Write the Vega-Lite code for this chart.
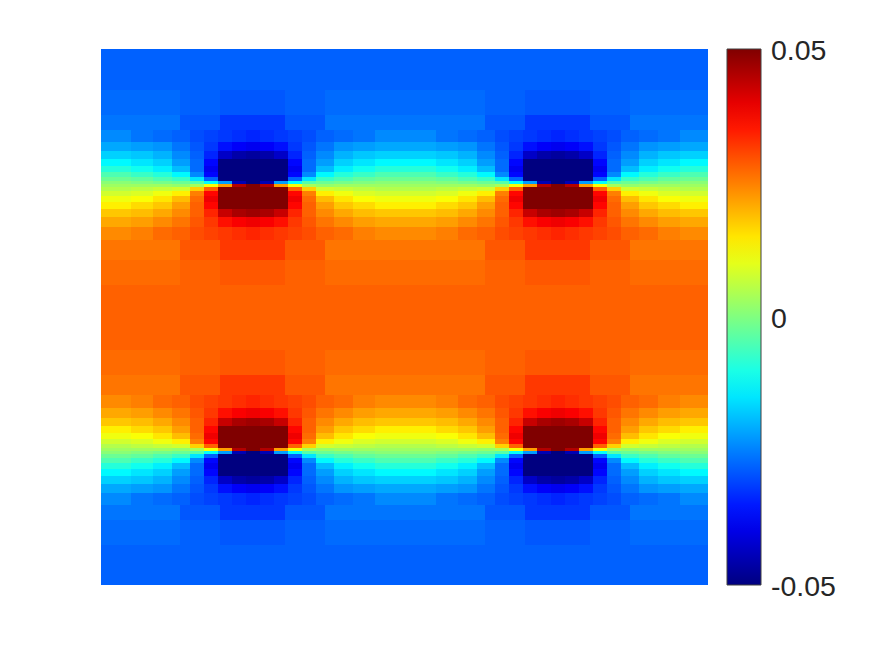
{"$schema":"https://vega.github.io/schema/vega-lite/v6.json","width":607,"height":536,"autosize":{"type":"none"},"padding":{"left":101,"top":49,"right":167,"bottom":71},"background":"white","config":{"view":{"stroke":null}},"datasets":{"cols":[{"c":0,"a":101,"b":131},{"c":1,"a":131,"b":153},{"c":2,"a":153,"b":172},{"c":3,"a":172,"b":190},{"c":4,"a":190,"b":204},{"c":5,"a":204,"b":218},{"c":6,"a":218,"b":232},{"c":7,"a":232,"b":246},{"c":8,"a":246,"b":260},{"c":9,"a":260,"b":274},{"c":10,"a":274,"b":288},{"c":11,"a":288,"b":302},{"c":12,"a":302,"b":316},{"c":13,"a":316,"b":334},{"c":14,"a":334,"b":353},{"c":15,"a":353,"b":375},{"c":16,"a":375,"b":436},{"c":17,"a":436,"b":458},{"c":18,"a":458,"b":477},{"c":19,"a":477,"b":495},{"c":20,"a":495,"b":509},{"c":21,"a":509,"b":523},{"c":22,"a":523,"b":537},{"c":23,"a":537,"b":551},{"c":24,"a":551,"b":565},{"c":25,"a":565,"b":579},{"c":26,"a":579,"b":593},{"c":27,"a":593,"b":607},{"c":28,"a":607,"b":621},{"c":29,"a":621,"b":639},{"c":30,"a":639,"b":658},{"c":31,"a":658,"b":680},{"c":32,"a":680,"b":708},{"c":33,"a":218,"b":288},{"c":34,"a":523,"b":593},{"c":35,"a":101,"b":708},{"c":36,"a":101,"b":180},{"c":37,"a":180,"b":220},{"c":38,"a":220,"b":285},{"c":39,"a":285,"b":325},{"c":40,"a":325,"b":485},{"c":41,"a":485,"b":525},{"c":42,"a":525,"b":590},{"c":43,"a":590,"b":630},{"c":44,"a":630,"b":708}],"rows":[{"r":0,"s":49,"t":90},{"r":1,"s":90,"t":115},{"r":2,"s":115,"t":130},{"r":3,"s":130,"t":142},{"r":4,"s":142,"t":151},{"r":5,"s":151,"t":159},{"r":6,"s":159,"t":166},{"r":7,"s":166,"t":172},{"r":8,"s":172,"t":177},{"r":9,"s":177,"t":181},{"r":10,"s":181,"t":184},{"r":11,"s":184,"t":187},{"r":12,"s":187,"t":191},{"r":13,"s":191,"t":196},{"r":14,"s":196,"t":202},{"r":15,"s":202,"t":209},{"r":16,"s":209,"t":217},{"r":17,"s":217,"t":227},{"r":18,"s":227,"t":240},{"r":19,"s":240,"t":260},{"r":20,"s":260,"t":285},{"r":21,"s":285,"t":350},{"r":22,"s":350,"t":375},{"r":23,"s":375,"t":395},{"r":24,"s":395,"t":408},{"r":25,"s":408,"t":418},{"r":26,"s":418,"t":426},{"r":27,"s":426,"t":433},{"r":28,"s":433,"t":439},{"r":29,"s":439,"t":444},{"r":30,"s":444,"t":448},{"r":31,"s":448,"t":451},{"r":32,"s":451,"t":454},{"r":33,"s":454,"t":458},{"r":34,"s":458,"t":463},{"r":35,"s":463,"t":469},{"r":36,"s":469,"t":476},{"r":37,"s":476,"t":484},{"r":38,"s":484,"t":493},{"r":39,"s":493,"t":505},{"r":40,"s":505,"t":520},{"r":41,"s":520,"t":545},{"r":42,"s":545,"t":585}]},"data":{"values":[
{"c":35,"r":0,"v":-0.028},{"c":35,"r":21,"v":0.028},{"c":35,"r":42,"v":-0.028},
{"c":36,"r":1,"v":-0.027},{"c":37,"r":1,"v":-0.028},{"c":38,"r":1,"v":-0.029},{"c":39,"r":1,"v":-0.028},{"c":40,"r":1,"v":-0.027},{"c":41,"r":1,"v":-0.028},{"c":42,"r":1,"v":-0.029},{"c":43,"r":1,"v":-0.028},{"c":44,"r":1,"v":-0.027},
{"c":36,"r":2,"v":-0.026},{"c":37,"r":2,"v":-0.029},{"c":38,"r":2,"v":-0.032},{"c":39,"r":2,"v":-0.029},{"c":40,"r":2,"v":-0.026},{"c":41,"r":2,"v":-0.029},{"c":42,"r":2,"v":-0.032},{"c":43,"r":2,"v":-0.029},{"c":44,"r":2,"v":-0.026},
{"c":36,"r":19,"v":0.026},{"c":37,"r":19,"v":0.029},{"c":38,"r":19,"v":0.032},{"c":39,"r":19,"v":0.029},{"c":40,"r":19,"v":0.026},{"c":41,"r":19,"v":0.029},{"c":42,"r":19,"v":0.032},{"c":43,"r":19,"v":0.029},{"c":44,"r":19,"v":0.026},
{"c":36,"r":20,"v":0.027},{"c":37,"r":20,"v":0.028},{"c":38,"r":20,"v":0.029},{"c":39,"r":20,"v":0.028},{"c":40,"r":20,"v":0.027},{"c":41,"r":20,"v":0.028},{"c":42,"r":20,"v":0.029},{"c":43,"r":20,"v":0.028},{"c":44,"r":20,"v":0.027},
{"c":36,"r":22,"v":0.027},{"c":37,"r":22,"v":0.028},{"c":38,"r":22,"v":0.029},{"c":39,"r":22,"v":0.028},{"c":40,"r":22,"v":0.027},{"c":41,"r":22,"v":0.028},{"c":42,"r":22,"v":0.029},{"c":43,"r":22,"v":0.028},{"c":44,"r":22,"v":0.027},
{"c":36,"r":23,"v":0.026},{"c":37,"r":23,"v":0.029},{"c":38,"r":23,"v":0.032},{"c":39,"r":23,"v":0.029},{"c":40,"r":23,"v":0.026},{"c":41,"r":23,"v":0.029},{"c":42,"r":23,"v":0.032},{"c":43,"r":23,"v":0.029},{"c":44,"r":23,"v":0.026},
{"c":36,"r":40,"v":-0.026},{"c":37,"r":40,"v":-0.029},{"c":38,"r":40,"v":-0.032},{"c":39,"r":40,"v":-0.029},{"c":40,"r":40,"v":-0.026},{"c":41,"r":40,"v":-0.029},{"c":42,"r":40,"v":-0.032},{"c":43,"r":40,"v":-0.029},{"c":44,"r":40,"v":-0.026},
{"c":36,"r":41,"v":-0.027},{"c":37,"r":41,"v":-0.028},{"c":38,"r":41,"v":-0.029},{"c":39,"r":41,"v":-0.028},{"c":40,"r":41,"v":-0.027},{"c":41,"r":41,"v":-0.028},{"c":42,"r":41,"v":-0.029},{"c":43,"r":41,"v":-0.028},{"c":44,"r":41,"v":-0.027},
{"c":0,"r":3,"v":-0.024},{"c":1,"r":3,"v":-0.026},{"c":2,"r":3,"v":-0.027},{"c":3,"r":3,"v":-0.028},{"c":4,"r":3,"v":-0.03},{"c":5,"r":3,"v":-0.031},{"c":6,"r":3,"v":-0.032},{"c":7,"r":3,"v":-0.033},{"c":8,"r":3,"v":-0.034},{"c":9,"r":3,"v":-0.033},{"c":10,"r":3,"v":-0.032},{"c":11,"r":3,"v":-0.031},{"c":12,"r":3,"v":-0.03},{"c":13,"r":3,"v":-0.028},{"c":14,"r":3,"v":-0.027},{"c":15,"r":3,"v":-0.026},{"c":16,"r":3,"v":-0.024},{"c":17,"r":3,"v":-0.026},{"c":18,"r":3,"v":-0.027},{"c":19,"r":3,"v":-0.028},{"c":20,"r":3,"v":-0.03},{"c":21,"r":3,"v":-0.031},{"c":22,"r":3,"v":-0.032},{"c":23,"r":3,"v":-0.033},{"c":24,"r":3,"v":-0.034},{"c":25,"r":3,"v":-0.033},{"c":26,"r":3,"v":-0.032},{"c":27,"r":3,"v":-0.031},{"c":28,"r":3,"v":-0.03},{"c":29,"r":3,"v":-0.028},{"c":30,"r":3,"v":-0.027},{"c":31,"r":3,"v":-0.026},{"c":32,"r":3,"v":-0.024},
{"c":0,"r":39,"v":-0.024},{"c":1,"r":39,"v":-0.026},{"c":2,"r":39,"v":-0.027},{"c":3,"r":39,"v":-0.028},{"c":4,"r":39,"v":-0.03},{"c":5,"r":39,"v":-0.031},{"c":6,"r":39,"v":-0.032},{"c":7,"r":39,"v":-0.033},{"c":8,"r":39,"v":-0.034},{"c":9,"r":39,"v":-0.033},{"c":10,"r":39,"v":-0.032},{"c":11,"r":39,"v":-0.031},{"c":12,"r":39,"v":-0.03},{"c":13,"r":39,"v":-0.028},{"c":14,"r":39,"v":-0.027},{"c":15,"r":39,"v":-0.026},{"c":16,"r":39,"v":-0.024},{"c":17,"r":39,"v":-0.026},{"c":18,"r":39,"v":-0.027},{"c":19,"r":39,"v":-0.028},{"c":20,"r":39,"v":-0.03},{"c":21,"r":39,"v":-0.031},{"c":22,"r":39,"v":-0.032},{"c":23,"r":39,"v":-0.033},{"c":24,"r":39,"v":-0.034},{"c":25,"r":39,"v":-0.033},{"c":26,"r":39,"v":-0.032},{"c":27,"r":39,"v":-0.031},{"c":28,"r":39,"v":-0.03},{"c":29,"r":39,"v":-0.028},{"c":30,"r":39,"v":-0.027},{"c":31,"r":39,"v":-0.026},{"c":32,"r":39,"v":-0.024},
{"c":0,"r":4,"v":-0.021},{"c":1,"r":4,"v":-0.022},{"c":2,"r":4,"v":-0.023},{"c":3,"r":4,"v":-0.026},{"c":4,"r":4,"v":-0.029},{"c":5,"r":4,"v":-0.032},{"c":6,"r":4,"v":-0.036},{"c":7,"r":4,"v":-0.038},{"c":8,"r":4,"v":-0.039},{"c":9,"r":4,"v":-0.038},{"c":10,"r":4,"v":-0.036},{"c":11,"r":4,"v":-0.032},{"c":12,"r":4,"v":-0.029},{"c":13,"r":4,"v":-0.026},{"c":14,"r":4,"v":-0.023},{"c":15,"r":4,"v":-0.022},{"c":16,"r":4,"v":-0.021},{"c":17,"r":4,"v":-0.022},{"c":18,"r":4,"v":-0.023},{"c":19,"r":4,"v":-0.026},{"c":20,"r":4,"v":-0.029},{"c":21,"r":4,"v":-0.032},{"c":22,"r":4,"v":-0.036},{"c":23,"r":4,"v":-0.038},{"c":24,"r":4,"v":-0.039},{"c":25,"r":4,"v":-0.038},{"c":26,"r":4,"v":-0.036},{"c":27,"r":4,"v":-0.032},{"c":28,"r":4,"v":-0.029},{"c":29,"r":4,"v":-0.026},{"c":30,"r":4,"v":-0.023},{"c":31,"r":4,"v":-0.022},{"c":32,"r":4,"v":-0.021},
{"c":0,"r":38,"v":-0.021},{"c":1,"r":38,"v":-0.022},{"c":2,"r":38,"v":-0.023},{"c":3,"r":38,"v":-0.026},{"c":4,"r":38,"v":-0.029},{"c":5,"r":38,"v":-0.032},{"c":6,"r":38,"v":-0.036},{"c":7,"r":38,"v":-0.038},{"c":8,"r":38,"v":-0.039},{"c":9,"r":38,"v":-0.038},{"c":10,"r":38,"v":-0.036},{"c":11,"r":38,"v":-0.032},{"c":12,"r":38,"v":-0.029},{"c":13,"r":38,"v":-0.026},{"c":14,"r":38,"v":-0.023},{"c":15,"r":38,"v":-0.022},{"c":16,"r":38,"v":-0.021},{"c":17,"r":38,"v":-0.022},{"c":18,"r":38,"v":-0.023},{"c":19,"r":38,"v":-0.026},{"c":20,"r":38,"v":-0.029},{"c":21,"r":38,"v":-0.032},{"c":22,"r":38,"v":-0.036},{"c":23,"r":38,"v":-0.038},{"c":24,"r":38,"v":-0.039},{"c":25,"r":38,"v":-0.038},{"c":26,"r":38,"v":-0.036},{"c":27,"r":38,"v":-0.032},{"c":28,"r":38,"v":-0.029},{"c":29,"r":38,"v":-0.026},{"c":30,"r":38,"v":-0.023},{"c":31,"r":38,"v":-0.022},{"c":32,"r":38,"v":-0.021},
{"c":0,"r":5,"v":-0.017},{"c":1,"r":5,"v":-0.018},{"c":2,"r":5,"v":-0.02},{"c":3,"r":5,"v":-0.024},{"c":4,"r":5,"v":-0.028},{"c":5,"r":5,"v":-0.034},{"c":6,"r":5,"v":-0.043},{"c":7,"r":5,"v":-0.046},{"c":8,"r":5,"v":-0.047},{"c":9,"r":5,"v":-0.046},{"c":10,"r":5,"v":-0.043},{"c":11,"r":5,"v":-0.034},{"c":12,"r":5,"v":-0.028},{"c":13,"r":5,"v":-0.024},{"c":14,"r":5,"v":-0.02},{"c":15,"r":5,"v":-0.018},{"c":16,"r":5,"v":-0.017},{"c":17,"r":5,"v":-0.018},{"c":18,"r":5,"v":-0.02},{"c":19,"r":5,"v":-0.024},{"c":20,"r":5,"v":-0.028},{"c":21,"r":5,"v":-0.034},{"c":22,"r":5,"v":-0.043},{"c":23,"r":5,"v":-0.046},{"c":24,"r":5,"v":-0.047},{"c":25,"r":5,"v":-0.046},{"c":26,"r":5,"v":-0.043},{"c":27,"r":5,"v":-0.034},{"c":28,"r":5,"v":-0.028},{"c":29,"r":5,"v":-0.024},{"c":30,"r":5,"v":-0.02},{"c":31,"r":5,"v":-0.018},{"c":32,"r":5,"v":-0.017},
{"c":0,"r":37,"v":-0.017},{"c":1,"r":37,"v":-0.018},{"c":2,"r":37,"v":-0.02},{"c":3,"r":37,"v":-0.024},{"c":4,"r":37,"v":-0.028},{"c":5,"r":37,"v":-0.034},{"c":6,"r":37,"v":-0.043},{"c":7,"r":37,"v":-0.046},{"c":8,"r":37,"v":-0.047},{"c":9,"r":37,"v":-0.046},{"c":10,"r":37,"v":-0.043},{"c":11,"r":37,"v":-0.034},{"c":12,"r":37,"v":-0.028},{"c":13,"r":37,"v":-0.024},{"c":14,"r":37,"v":-0.02},{"c":15,"r":37,"v":-0.018},{"c":16,"r":37,"v":-0.017},{"c":17,"r":37,"v":-0.018},{"c":18,"r":37,"v":-0.02},{"c":19,"r":37,"v":-0.024},{"c":20,"r":37,"v":-0.028},{"c":21,"r":37,"v":-0.034},{"c":22,"r":37,"v":-0.043},{"c":23,"r":37,"v":-0.046},{"c":24,"r":37,"v":-0.047},{"c":25,"r":37,"v":-0.046},{"c":26,"r":37,"v":-0.043},{"c":27,"r":37,"v":-0.034},{"c":28,"r":37,"v":-0.028},{"c":29,"r":37,"v":-0.024},{"c":30,"r":37,"v":-0.02},{"c":31,"r":37,"v":-0.018},{"c":32,"r":37,"v":-0.017},
{"c":0,"r":6,"v":-0.013},{"c":1,"r":6,"v":-0.015},{"c":2,"r":6,"v":-0.017},{"c":3,"r":6,"v":-0.022},{"c":4,"r":6,"v":-0.027},{"c":5,"r":6,"v":-0.037},{"c":33,"r":6,"v":-0.05},{"c":11,"r":6,"v":-0.037},{"c":12,"r":6,"v":-0.027},{"c":13,"r":6,"v":-0.022},{"c":14,"r":6,"v":-0.017},{"c":15,"r":6,"v":-0.015},{"c":16,"r":6,"v":-0.013},{"c":17,"r":6,"v":-0.015},{"c":18,"r":6,"v":-0.017},{"c":19,"r":6,"v":-0.022},{"c":20,"r":6,"v":-0.027},{"c":21,"r":6,"v":-0.037},{"c":34,"r":6,"v":-0.05},{"c":27,"r":6,"v":-0.037},{"c":28,"r":6,"v":-0.027},{"c":29,"r":6,"v":-0.022},{"c":30,"r":6,"v":-0.017},{"c":31,"r":6,"v":-0.015},{"c":32,"r":6,"v":-0.013},
{"c":0,"r":36,"v":-0.013},{"c":1,"r":36,"v":-0.015},{"c":2,"r":36,"v":-0.017},{"c":3,"r":36,"v":-0.022},{"c":4,"r":36,"v":-0.027},{"c":5,"r":36,"v":-0.037},{"c":33,"r":36,"v":-0.05},{"c":11,"r":36,"v":-0.037},{"c":12,"r":36,"v":-0.027},{"c":13,"r":36,"v":-0.022},{"c":14,"r":36,"v":-0.017},{"c":15,"r":36,"v":-0.015},{"c":16,"r":36,"v":-0.013},{"c":17,"r":36,"v":-0.015},{"c":18,"r":36,"v":-0.017},{"c":19,"r":36,"v":-0.022},{"c":20,"r":36,"v":-0.027},{"c":21,"r":36,"v":-0.037},{"c":34,"r":36,"v":-0.05},{"c":27,"r":36,"v":-0.037},{"c":28,"r":36,"v":-0.027},{"c":29,"r":36,"v":-0.022},{"c":30,"r":36,"v":-0.017},{"c":31,"r":36,"v":-0.015},{"c":32,"r":36,"v":-0.013},
{"c":0,"r":7,"v":-0.009},{"c":1,"r":7,"v":-0.011},{"c":2,"r":7,"v":-0.014},{"c":3,"r":7,"v":-0.019},{"c":4,"r":7,"v":-0.027},{"c":5,"r":7,"v":-0.039},{"c":33,"r":7,"v":-0.05},{"c":11,"r":7,"v":-0.039},{"c":12,"r":7,"v":-0.027},{"c":13,"r":7,"v":-0.019},{"c":14,"r":7,"v":-0.014},{"c":15,"r":7,"v":-0.011},{"c":16,"r":7,"v":-0.009},{"c":17,"r":7,"v":-0.011},{"c":18,"r":7,"v":-0.014},{"c":19,"r":7,"v":-0.019},{"c":20,"r":7,"v":-0.027},{"c":21,"r":7,"v":-0.039},{"c":34,"r":7,"v":-0.05},{"c":27,"r":7,"v":-0.039},{"c":28,"r":7,"v":-0.027},{"c":29,"r":7,"v":-0.019},{"c":30,"r":7,"v":-0.014},{"c":31,"r":7,"v":-0.011},{"c":32,"r":7,"v":-0.009},
{"c":0,"r":35,"v":-0.009},{"c":1,"r":35,"v":-0.011},{"c":2,"r":35,"v":-0.014},{"c":3,"r":35,"v":-0.019},{"c":4,"r":35,"v":-0.027},{"c":5,"r":35,"v":-0.039},{"c":33,"r":35,"v":-0.05},{"c":11,"r":35,"v":-0.039},{"c":12,"r":35,"v":-0.027},{"c":13,"r":35,"v":-0.019},{"c":14,"r":35,"v":-0.014},{"c":15,"r":35,"v":-0.011},{"c":16,"r":35,"v":-0.009},{"c":17,"r":35,"v":-0.011},{"c":18,"r":35,"v":-0.014},{"c":19,"r":35,"v":-0.019},{"c":20,"r":35,"v":-0.027},{"c":21,"r":35,"v":-0.039},{"c":34,"r":35,"v":-0.05},{"c":27,"r":35,"v":-0.039},{"c":28,"r":35,"v":-0.027},{"c":29,"r":35,"v":-0.019},{"c":30,"r":35,"v":-0.014},{"c":31,"r":35,"v":-0.011},{"c":32,"r":35,"v":-0.009},
{"c":0,"r":8,"v":-0.005},{"c":1,"r":8,"v":-0.007},{"c":2,"r":8,"v":-0.009},{"c":3,"r":8,"v":-0.013},{"c":4,"r":8,"v":-0.024},{"c":5,"r":8,"v":-0.037},{"c":33,"r":8,"v":-0.05},{"c":11,"r":8,"v":-0.037},{"c":12,"r":8,"v":-0.024},{"c":13,"r":8,"v":-0.013},{"c":14,"r":8,"v":-0.009},{"c":15,"r":8,"v":-0.007},{"c":16,"r":8,"v":-0.005},{"c":17,"r":8,"v":-0.007},{"c":18,"r":8,"v":-0.009},{"c":19,"r":8,"v":-0.013},{"c":20,"r":8,"v":-0.024},{"c":21,"r":8,"v":-0.037},{"c":34,"r":8,"v":-0.05},{"c":27,"r":8,"v":-0.037},{"c":28,"r":8,"v":-0.024},{"c":29,"r":8,"v":-0.013},{"c":30,"r":8,"v":-0.009},{"c":31,"r":8,"v":-0.007},{"c":32,"r":8,"v":-0.005},
{"c":0,"r":34,"v":-0.005},{"c":1,"r":34,"v":-0.007},{"c":2,"r":34,"v":-0.009},{"c":3,"r":34,"v":-0.013},{"c":4,"r":34,"v":-0.024},{"c":5,"r":34,"v":-0.037},{"c":33,"r":34,"v":-0.05},{"c":11,"r":34,"v":-0.037},{"c":12,"r":34,"v":-0.024},{"c":13,"r":34,"v":-0.013},{"c":14,"r":34,"v":-0.009},{"c":15,"r":34,"v":-0.007},{"c":16,"r":34,"v":-0.005},{"c":17,"r":34,"v":-0.007},{"c":18,"r":34,"v":-0.009},{"c":19,"r":34,"v":-0.013},{"c":20,"r":34,"v":-0.024},{"c":21,"r":34,"v":-0.037},{"c":34,"r":34,"v":-0.05},{"c":27,"r":34,"v":-0.037},{"c":28,"r":34,"v":-0.024},{"c":29,"r":34,"v":-0.013},{"c":30,"r":34,"v":-0.009},{"c":31,"r":34,"v":-0.007},{"c":32,"r":34,"v":-0.005},
{"c":0,"r":9,"v":-0.002},{"c":1,"r":9,"v":-0.003},{"c":2,"r":9,"v":-0.005},{"c":3,"r":9,"v":-0.007},{"c":4,"r":9,"v":-0.015},{"c":5,"r":9,"v":-0.028},{"c":33,"r":9,"v":-0.05},{"c":11,"r":9,"v":-0.028},{"c":12,"r":9,"v":-0.015},{"c":13,"r":9,"v":-0.007},{"c":14,"r":9,"v":-0.005},{"c":15,"r":9,"v":-0.003},{"c":16,"r":9,"v":-0.002},{"c":17,"r":9,"v":-0.003},{"c":18,"r":9,"v":-0.005},{"c":19,"r":9,"v":-0.007},{"c":20,"r":9,"v":-0.015},{"c":21,"r":9,"v":-0.028},{"c":34,"r":9,"v":-0.05},{"c":27,"r":9,"v":-0.028},{"c":28,"r":9,"v":-0.015},{"c":29,"r":9,"v":-0.007},{"c":30,"r":9,"v":-0.005},{"c":31,"r":9,"v":-0.003},{"c":32,"r":9,"v":-0.002},
{"c":0,"r":33,"v":-0.002},{"c":1,"r":33,"v":-0.003},{"c":2,"r":33,"v":-0.005},{"c":3,"r":33,"v":-0.007},{"c":4,"r":33,"v":-0.015},{"c":5,"r":33,"v":-0.028},{"c":33,"r":33,"v":-0.05},{"c":11,"r":33,"v":-0.028},{"c":12,"r":33,"v":-0.015},{"c":13,"r":33,"v":-0.007},{"c":14,"r":33,"v":-0.005},{"c":15,"r":33,"v":-0.003},{"c":16,"r":33,"v":-0.002},{"c":17,"r":33,"v":-0.003},{"c":18,"r":33,"v":-0.005},{"c":19,"r":33,"v":-0.007},{"c":20,"r":33,"v":-0.015},{"c":21,"r":33,"v":-0.028},{"c":34,"r":33,"v":-0.05},{"c":27,"r":33,"v":-0.028},{"c":28,"r":33,"v":-0.015},{"c":29,"r":33,"v":-0.007},{"c":30,"r":33,"v":-0.005},{"c":31,"r":33,"v":-0.003},{"c":32,"r":33,"v":-0.002},
{"c":0,"r":10,"v":0.001},{"c":1,"r":10,"v":0},{"c":2,"r":10,"v":-0.001},{"c":3,"r":10,"v":-0.002},{"c":4,"r":10,"v":-0.004},{"c":5,"r":10,"v":-0.012},{"c":6,"r":10,"v":-0.022},{"c":7,"r":10,"v":-0.045},{"c":8,"r":10,"v":-0.05},{"c":9,"r":10,"v":-0.045},{"c":10,"r":10,"v":-0.022},{"c":11,"r":10,"v":-0.012},{"c":12,"r":10,"v":-0.004},{"c":13,"r":10,"v":-0.002},{"c":14,"r":10,"v":-0.001},{"c":15,"r":10,"v":0},{"c":16,"r":10,"v":0.001},{"c":17,"r":10,"v":0},{"c":18,"r":10,"v":-0.001},{"c":19,"r":10,"v":-0.002},{"c":20,"r":10,"v":-0.004},{"c":21,"r":10,"v":-0.012},{"c":22,"r":10,"v":-0.022},{"c":23,"r":10,"v":-0.045},{"c":24,"r":10,"v":-0.05},{"c":25,"r":10,"v":-0.045},{"c":26,"r":10,"v":-0.022},{"c":27,"r":10,"v":-0.012},{"c":28,"r":10,"v":-0.004},{"c":29,"r":10,"v":-0.002},{"c":30,"r":10,"v":-0.001},{"c":31,"r":10,"v":0},{"c":32,"r":10,"v":0.001},
{"c":0,"r":32,"v":0.001},{"c":1,"r":32,"v":0},{"c":2,"r":32,"v":-0.001},{"c":3,"r":32,"v":-0.002},{"c":4,"r":32,"v":-0.004},{"c":5,"r":32,"v":-0.012},{"c":6,"r":32,"v":-0.022},{"c":7,"r":32,"v":-0.045},{"c":8,"r":32,"v":-0.05},{"c":9,"r":32,"v":-0.045},{"c":10,"r":32,"v":-0.022},{"c":11,"r":32,"v":-0.012},{"c":12,"r":32,"v":-0.004},{"c":13,"r":32,"v":-0.002},{"c":14,"r":32,"v":-0.001},{"c":15,"r":32,"v":0},{"c":16,"r":32,"v":0.001},{"c":17,"r":32,"v":0},{"c":18,"r":32,"v":-0.001},{"c":19,"r":32,"v":-0.002},{"c":20,"r":32,"v":-0.004},{"c":21,"r":32,"v":-0.012},{"c":22,"r":32,"v":-0.022},{"c":23,"r":32,"v":-0.045},{"c":24,"r":32,"v":-0.05},{"c":25,"r":32,"v":-0.045},{"c":26,"r":32,"v":-0.022},{"c":27,"r":32,"v":-0.012},{"c":28,"r":32,"v":-0.004},{"c":29,"r":32,"v":-0.002},{"c":30,"r":32,"v":-0.001},{"c":31,"r":32,"v":0},{"c":32,"r":32,"v":0.001},
{"c":0,"r":11,"v":0.003},{"c":1,"r":11,"v":0.003},{"c":2,"r":11,"v":0.003},{"c":3,"r":11,"v":0.002},{"c":4,"r":11,"v":0.004},{"c":5,"r":11,"v":0.012},{"c":6,"r":11,"v":0.022},{"c":7,"r":11,"v":0.045},{"c":8,"r":11,"v":0.05},{"c":9,"r":11,"v":0.045},{"c":10,"r":11,"v":0.022},{"c":11,"r":11,"v":0.012},{"c":12,"r":11,"v":0.004},{"c":13,"r":11,"v":0.002},{"c":14,"r":11,"v":0.003},{"c":15,"r":11,"v":0.003},{"c":16,"r":11,"v":0.003},{"c":17,"r":11,"v":0.003},{"c":18,"r":11,"v":0.003},{"c":19,"r":11,"v":0.002},{"c":20,"r":11,"v":0.004},{"c":21,"r":11,"v":0.012},{"c":22,"r":11,"v":0.022},{"c":23,"r":11,"v":0.045},{"c":24,"r":11,"v":0.05},{"c":25,"r":11,"v":0.045},{"c":26,"r":11,"v":0.022},{"c":27,"r":11,"v":0.012},{"c":28,"r":11,"v":0.004},{"c":29,"r":11,"v":0.002},{"c":30,"r":11,"v":0.003},{"c":31,"r":11,"v":0.003},{"c":32,"r":11,"v":0.003},
{"c":0,"r":31,"v":0.003},{"c":1,"r":31,"v":0.003},{"c":2,"r":31,"v":0.003},{"c":3,"r":31,"v":0.002},{"c":4,"r":31,"v":0.004},{"c":5,"r":31,"v":0.012},{"c":6,"r":31,"v":0.022},{"c":7,"r":31,"v":0.045},{"c":8,"r":31,"v":0.05},{"c":9,"r":31,"v":0.045},{"c":10,"r":31,"v":0.022},{"c":11,"r":31,"v":0.012},{"c":12,"r":31,"v":0.004},{"c":13,"r":31,"v":0.002},{"c":14,"r":31,"v":0.003},{"c":15,"r":31,"v":0.003},{"c":16,"r":31,"v":0.003},{"c":17,"r":31,"v":0.003},{"c":18,"r":31,"v":0.003},{"c":19,"r":31,"v":0.002},{"c":20,"r":31,"v":0.004},{"c":21,"r":31,"v":0.012},{"c":22,"r":31,"v":0.022},{"c":23,"r":31,"v":0.045},{"c":24,"r":31,"v":0.05},{"c":25,"r":31,"v":0.045},{"c":26,"r":31,"v":0.022},{"c":27,"r":31,"v":0.012},{"c":28,"r":31,"v":0.004},{"c":29,"r":31,"v":0.002},{"c":30,"r":31,"v":0.003},{"c":31,"r":31,"v":0.003},{"c":32,"r":31,"v":0.003},
{"c":0,"r":12,"v":0.005},{"c":1,"r":12,"v":0.006},{"c":2,"r":12,"v":0.007},{"c":3,"r":12,"v":0.008},{"c":4,"r":12,"v":0.017},{"c":5,"r":12,"v":0.028},{"c":33,"r":12,"v":0.05},{"c":11,"r":12,"v":0.028},{"c":12,"r":12,"v":0.017},{"c":13,"r":12,"v":0.008},{"c":14,"r":12,"v":0.007},{"c":15,"r":12,"v":0.006},{"c":16,"r":12,"v":0.005},{"c":17,"r":12,"v":0.006},{"c":18,"r":12,"v":0.007},{"c":19,"r":12,"v":0.008},{"c":20,"r":12,"v":0.017},{"c":21,"r":12,"v":0.028},{"c":34,"r":12,"v":0.05},{"c":27,"r":12,"v":0.028},{"c":28,"r":12,"v":0.017},{"c":29,"r":12,"v":0.008},{"c":30,"r":12,"v":0.007},{"c":31,"r":12,"v":0.006},{"c":32,"r":12,"v":0.005},
{"c":0,"r":30,"v":0.005},{"c":1,"r":30,"v":0.006},{"c":2,"r":30,"v":0.007},{"c":3,"r":30,"v":0.008},{"c":4,"r":30,"v":0.017},{"c":5,"r":30,"v":0.028},{"c":33,"r":30,"v":0.05},{"c":11,"r":30,"v":0.028},{"c":12,"r":30,"v":0.017},{"c":13,"r":30,"v":0.008},{"c":14,"r":30,"v":0.007},{"c":15,"r":30,"v":0.006},{"c":16,"r":30,"v":0.005},{"c":17,"r":30,"v":0.006},{"c":18,"r":30,"v":0.007},{"c":19,"r":30,"v":0.008},{"c":20,"r":30,"v":0.017},{"c":21,"r":30,"v":0.028},{"c":34,"r":30,"v":0.05},{"c":27,"r":30,"v":0.028},{"c":28,"r":30,"v":0.017},{"c":29,"r":30,"v":0.008},{"c":30,"r":30,"v":0.007},{"c":31,"r":30,"v":0.006},{"c":32,"r":30,"v":0.005},
{"c":0,"r":13,"v":0.008},{"c":1,"r":13,"v":0.009},{"c":2,"r":13,"v":0.011},{"c":3,"r":13,"v":0.014},{"c":4,"r":13,"v":0.025},{"c":5,"r":13,"v":0.037},{"c":33,"r":13,"v":0.05},{"c":11,"r":13,"v":0.037},{"c":12,"r":13,"v":0.025},{"c":13,"r":13,"v":0.014},{"c":14,"r":13,"v":0.011},{"c":15,"r":13,"v":0.009},{"c":16,"r":13,"v":0.008},{"c":17,"r":13,"v":0.009},{"c":18,"r":13,"v":0.011},{"c":19,"r":13,"v":0.014},{"c":20,"r":13,"v":0.025},{"c":21,"r":13,"v":0.037},{"c":34,"r":13,"v":0.05},{"c":27,"r":13,"v":0.037},{"c":28,"r":13,"v":0.025},{"c":29,"r":13,"v":0.014},{"c":30,"r":13,"v":0.011},{"c":31,"r":13,"v":0.009},{"c":32,"r":13,"v":0.008},
{"c":0,"r":29,"v":0.008},{"c":1,"r":29,"v":0.009},{"c":2,"r":29,"v":0.011},{"c":3,"r":29,"v":0.014},{"c":4,"r":29,"v":0.025},{"c":5,"r":29,"v":0.037},{"c":33,"r":29,"v":0.05},{"c":11,"r":29,"v":0.037},{"c":12,"r":29,"v":0.025},{"c":13,"r":29,"v":0.014},{"c":14,"r":29,"v":0.011},{"c":15,"r":29,"v":0.009},{"c":16,"r":29,"v":0.008},{"c":17,"r":29,"v":0.009},{"c":18,"r":29,"v":0.011},{"c":19,"r":29,"v":0.014},{"c":20,"r":29,"v":0.025},{"c":21,"r":29,"v":0.037},{"c":34,"r":29,"v":0.05},{"c":27,"r":29,"v":0.037},{"c":28,"r":29,"v":0.025},{"c":29,"r":29,"v":0.014},{"c":30,"r":29,"v":0.011},{"c":31,"r":29,"v":0.009},{"c":32,"r":29,"v":0.008},
{"c":0,"r":14,"v":0.011},{"c":1,"r":14,"v":0.012},{"c":2,"r":14,"v":0.015},{"c":3,"r":14,"v":0.019},{"c":4,"r":14,"v":0.027},{"c":5,"r":14,"v":0.039},{"c":33,"r":14,"v":0.05},{"c":11,"r":14,"v":0.039},{"c":12,"r":14,"v":0.027},{"c":13,"r":14,"v":0.019},{"c":14,"r":14,"v":0.015},{"c":15,"r":14,"v":0.012},{"c":16,"r":14,"v":0.011},{"c":17,"r":14,"v":0.012},{"c":18,"r":14,"v":0.015},{"c":19,"r":14,"v":0.019},{"c":20,"r":14,"v":0.027},{"c":21,"r":14,"v":0.039},{"c":34,"r":14,"v":0.05},{"c":27,"r":14,"v":0.039},{"c":28,"r":14,"v":0.027},{"c":29,"r":14,"v":0.019},{"c":30,"r":14,"v":0.015},{"c":31,"r":14,"v":0.012},{"c":32,"r":14,"v":0.011},
{"c":0,"r":28,"v":0.011},{"c":1,"r":28,"v":0.012},{"c":2,"r":28,"v":0.015},{"c":3,"r":28,"v":0.019},{"c":4,"r":28,"v":0.027},{"c":5,"r":28,"v":0.039},{"c":33,"r":28,"v":0.05},{"c":11,"r":28,"v":0.039},{"c":12,"r":28,"v":0.027},{"c":13,"r":28,"v":0.019},{"c":14,"r":28,"v":0.015},{"c":15,"r":28,"v":0.012},{"c":16,"r":28,"v":0.011},{"c":17,"r":28,"v":0.012},{"c":18,"r":28,"v":0.015},{"c":19,"r":28,"v":0.019},{"c":20,"r":28,"v":0.027},{"c":21,"r":28,"v":0.039},{"c":34,"r":28,"v":0.05},{"c":27,"r":28,"v":0.039},{"c":28,"r":28,"v":0.027},{"c":29,"r":28,"v":0.019},{"c":30,"r":28,"v":0.015},{"c":31,"r":28,"v":0.012},{"c":32,"r":28,"v":0.011},
{"c":0,"r":15,"v":0.014},{"c":1,"r":15,"v":0.016},{"c":2,"r":15,"v":0.018},{"c":3,"r":15,"v":0.022},{"c":4,"r":15,"v":0.028},{"c":5,"r":15,"v":0.037},{"c":33,"r":15,"v":0.05},{"c":11,"r":15,"v":0.037},{"c":12,"r":15,"v":0.028},{"c":13,"r":15,"v":0.022},{"c":14,"r":15,"v":0.018},{"c":15,"r":15,"v":0.016},{"c":16,"r":15,"v":0.014},{"c":17,"r":15,"v":0.016},{"c":18,"r":15,"v":0.018},{"c":19,"r":15,"v":0.022},{"c":20,"r":15,"v":0.028},{"c":21,"r":15,"v":0.037},{"c":34,"r":15,"v":0.05},{"c":27,"r":15,"v":0.037},{"c":28,"r":15,"v":0.028},{"c":29,"r":15,"v":0.022},{"c":30,"r":15,"v":0.018},{"c":31,"r":15,"v":0.016},{"c":32,"r":15,"v":0.014},
{"c":0,"r":27,"v":0.014},{"c":1,"r":27,"v":0.016},{"c":2,"r":27,"v":0.018},{"c":3,"r":27,"v":0.022},{"c":4,"r":27,"v":0.028},{"c":5,"r":27,"v":0.037},{"c":33,"r":27,"v":0.05},{"c":11,"r":27,"v":0.037},{"c":12,"r":27,"v":0.028},{"c":13,"r":27,"v":0.022},{"c":14,"r":27,"v":0.018},{"c":15,"r":27,"v":0.016},{"c":16,"r":27,"v":0.014},{"c":17,"r":27,"v":0.016},{"c":18,"r":27,"v":0.018},{"c":19,"r":27,"v":0.022},{"c":20,"r":27,"v":0.028},{"c":21,"r":27,"v":0.037},{"c":34,"r":27,"v":0.05},{"c":27,"r":27,"v":0.037},{"c":28,"r":27,"v":0.028},{"c":29,"r":27,"v":0.022},{"c":30,"r":27,"v":0.018},{"c":31,"r":27,"v":0.016},{"c":32,"r":27,"v":0.014},
{"c":0,"r":16,"v":0.018},{"c":1,"r":16,"v":0.019},{"c":2,"r":16,"v":0.021},{"c":3,"r":16,"v":0.024},{"c":4,"r":16,"v":0.028},{"c":5,"r":16,"v":0.034},{"c":6,"r":16,"v":0.043},{"c":7,"r":16,"v":0.046},{"c":8,"r":16,"v":0.047},{"c":9,"r":16,"v":0.046},{"c":10,"r":16,"v":0.043},{"c":11,"r":16,"v":0.034},{"c":12,"r":16,"v":0.028},{"c":13,"r":16,"v":0.024},{"c":14,"r":16,"v":0.021},{"c":15,"r":16,"v":0.019},{"c":16,"r":16,"v":0.018},{"c":17,"r":16,"v":0.019},{"c":18,"r":16,"v":0.021},{"c":19,"r":16,"v":0.024},{"c":20,"r":16,"v":0.028},{"c":21,"r":16,"v":0.034},{"c":22,"r":16,"v":0.043},{"c":23,"r":16,"v":0.046},{"c":24,"r":16,"v":0.047},{"c":25,"r":16,"v":0.046},{"c":26,"r":16,"v":0.043},{"c":27,"r":16,"v":0.034},{"c":28,"r":16,"v":0.028},{"c":29,"r":16,"v":0.024},{"c":30,"r":16,"v":0.021},{"c":31,"r":16,"v":0.019},{"c":32,"r":16,"v":0.018},
{"c":0,"r":26,"v":0.018},{"c":1,"r":26,"v":0.019},{"c":2,"r":26,"v":0.021},{"c":3,"r":26,"v":0.024},{"c":4,"r":26,"v":0.028},{"c":5,"r":26,"v":0.034},{"c":6,"r":26,"v":0.043},{"c":7,"r":26,"v":0.046},{"c":8,"r":26,"v":0.047},{"c":9,"r":26,"v":0.046},{"c":10,"r":26,"v":0.043},{"c":11,"r":26,"v":0.034},{"c":12,"r":26,"v":0.028},{"c":13,"r":26,"v":0.024},{"c":14,"r":26,"v":0.021},{"c":15,"r":26,"v":0.019},{"c":16,"r":26,"v":0.018},{"c":17,"r":26,"v":0.019},{"c":18,"r":26,"v":0.021},{"c":19,"r":26,"v":0.024},{"c":20,"r":26,"v":0.028},{"c":21,"r":26,"v":0.034},{"c":22,"r":26,"v":0.043},{"c":23,"r":26,"v":0.046},{"c":24,"r":26,"v":0.047},{"c":25,"r":26,"v":0.046},{"c":26,"r":26,"v":0.043},{"c":27,"r":26,"v":0.034},{"c":28,"r":26,"v":0.028},{"c":29,"r":26,"v":0.024},{"c":30,"r":26,"v":0.021},{"c":31,"r":26,"v":0.019},{"c":32,"r":26,"v":0.018},
{"c":0,"r":17,"v":0.021},{"c":1,"r":17,"v":0.022},{"c":2,"r":17,"v":0.024},{"c":3,"r":17,"v":0.026},{"c":4,"r":17,"v":0.029},{"c":5,"r":17,"v":0.032},{"c":6,"r":17,"v":0.036},{"c":7,"r":17,"v":0.038},{"c":8,"r":17,"v":0.039},{"c":9,"r":17,"v":0.038},{"c":10,"r":17,"v":0.036},{"c":11,"r":17,"v":0.032},{"c":12,"r":17,"v":0.029},{"c":13,"r":17,"v":0.026},{"c":14,"r":17,"v":0.024},{"c":15,"r":17,"v":0.022},{"c":16,"r":17,"v":0.021},{"c":17,"r":17,"v":0.022},{"c":18,"r":17,"v":0.024},{"c":19,"r":17,"v":0.026},{"c":20,"r":17,"v":0.029},{"c":21,"r":17,"v":0.032},{"c":22,"r":17,"v":0.036},{"c":23,"r":17,"v":0.038},{"c":24,"r":17,"v":0.039},{"c":25,"r":17,"v":0.038},{"c":26,"r":17,"v":0.036},{"c":27,"r":17,"v":0.032},{"c":28,"r":17,"v":0.029},{"c":29,"r":17,"v":0.026},{"c":30,"r":17,"v":0.024},{"c":31,"r":17,"v":0.022},{"c":32,"r":17,"v":0.021},
{"c":0,"r":25,"v":0.021},{"c":1,"r":25,"v":0.022},{"c":2,"r":25,"v":0.024},{"c":3,"r":25,"v":0.026},{"c":4,"r":25,"v":0.029},{"c":5,"r":25,"v":0.032},{"c":6,"r":25,"v":0.036},{"c":7,"r":25,"v":0.038},{"c":8,"r":25,"v":0.039},{"c":9,"r":25,"v":0.038},{"c":10,"r":25,"v":0.036},{"c":11,"r":25,"v":0.032},{"c":12,"r":25,"v":0.029},{"c":13,"r":25,"v":0.026},{"c":14,"r":25,"v":0.024},{"c":15,"r":25,"v":0.022},{"c":16,"r":25,"v":0.021},{"c":17,"r":25,"v":0.022},{"c":18,"r":25,"v":0.024},{"c":19,"r":25,"v":0.026},{"c":20,"r":25,"v":0.029},{"c":21,"r":25,"v":0.032},{"c":22,"r":25,"v":0.036},{"c":23,"r":25,"v":0.038},{"c":24,"r":25,"v":0.039},{"c":25,"r":25,"v":0.038},{"c":26,"r":25,"v":0.036},{"c":27,"r":25,"v":0.032},{"c":28,"r":25,"v":0.029},{"c":29,"r":25,"v":0.026},{"c":30,"r":25,"v":0.024},{"c":31,"r":25,"v":0.022},{"c":32,"r":25,"v":0.021},
{"c":0,"r":18,"v":0.024},{"c":1,"r":18,"v":0.025},{"c":2,"r":18,"v":0.027},{"c":3,"r":18,"v":0.028},{"c":4,"r":18,"v":0.03},{"c":5,"r":18,"v":0.031},{"c":6,"r":18,"v":0.032},{"c":7,"r":18,"v":0.033},{"c":8,"r":18,"v":0.034},{"c":9,"r":18,"v":0.033},{"c":10,"r":18,"v":0.032},{"c":11,"r":18,"v":0.031},{"c":12,"r":18,"v":0.03},{"c":13,"r":18,"v":0.028},{"c":14,"r":18,"v":0.027},{"c":15,"r":18,"v":0.025},{"c":16,"r":18,"v":0.024},{"c":17,"r":18,"v":0.025},{"c":18,"r":18,"v":0.027},{"c":19,"r":18,"v":0.028},{"c":20,"r":18,"v":0.03},{"c":21,"r":18,"v":0.031},{"c":22,"r":18,"v":0.032},{"c":23,"r":18,"v":0.033},{"c":24,"r":18,"v":0.034},{"c":25,"r":18,"v":0.033},{"c":26,"r":18,"v":0.032},{"c":27,"r":18,"v":0.031},{"c":28,"r":18,"v":0.03},{"c":29,"r":18,"v":0.028},{"c":30,"r":18,"v":0.027},{"c":31,"r":18,"v":0.025},{"c":32,"r":18,"v":0.024},
{"c":0,"r":24,"v":0.024},{"c":1,"r":24,"v":0.025},{"c":2,"r":24,"v":0.027},{"c":3,"r":24,"v":0.028},{"c":4,"r":24,"v":0.03},{"c":5,"r":24,"v":0.031},{"c":6,"r":24,"v":0.032},{"c":7,"r":24,"v":0.033},{"c":8,"r":24,"v":0.034},{"c":9,"r":24,"v":0.033},{"c":10,"r":24,"v":0.032},{"c":11,"r":24,"v":0.031},{"c":12,"r":24,"v":0.03},{"c":13,"r":24,"v":0.028},{"c":14,"r":24,"v":0.027},{"c":15,"r":24,"v":0.025},{"c":16,"r":24,"v":0.024},{"c":17,"r":24,"v":0.025},{"c":18,"r":24,"v":0.027},{"c":19,"r":24,"v":0.028},{"c":20,"r":24,"v":0.03},{"c":21,"r":24,"v":0.031},{"c":22,"r":24,"v":0.032},{"c":23,"r":24,"v":0.033},{"c":24,"r":24,"v":0.034},{"c":25,"r":24,"v":0.033},{"c":26,"r":24,"v":0.032},{"c":27,"r":24,"v":0.031},{"c":28,"r":24,"v":0.03},{"c":29,"r":24,"v":0.028},{"c":30,"r":24,"v":0.027},{"c":31,"r":24,"v":0.025},{"c":32,"r":24,"v":0.024}
]},"transform":[{"lookup":"c","from":{"data":{"name":"cols"},"key":"c","fields":["a","b"]}},{"lookup":"r","from":{"data":{"name":"rows"},"key":"r","fields":["s","t"]}}],"mark":{"type":"rect","strokeWidth":0},"encoding":{"x":{"field":"a","type":"quantitative","scale":{"domain":[101,708],"nice":false,"zero":false},"axis":null},"x2":{"field":"b"},"y":{"field":"s","type":"quantitative","scale":{"domain":[49,585],"reverse":true,"nice":false,"zero":false},"axis":null},"y2":{"field":"t"},"color":{"field":"v","type":"quantitative","scale":{"domain":[-0.05,-0.0375,-0.0125,0.0125,0.0375,0.05],"range":["#000080","#0000ff","#00ffff","#ffff00","#ff0000","#800000"],"clamp":true,"interpolate":"rgb"},"legend":{"orient":"none","legendX":626,"legendY":0,"title":null,"gradientLength":536,"gradientThickness":34,"values":[-0.05,0,0.05],"labelFontSize":28.5,"labelFont":"Liberation Sans","labelColor":"#262626","labelOffset":10,"labelOverlap":false,"format":"g","labelExpr":"datum.value<0?'-0.05':datum.label","gradientStrokeColor":"#404040","gradientStrokeWidth":1,"encode":{"labels":{"update":{"baseline":{"value":"middle"},"dy":{"value":2}}}}}}}}
